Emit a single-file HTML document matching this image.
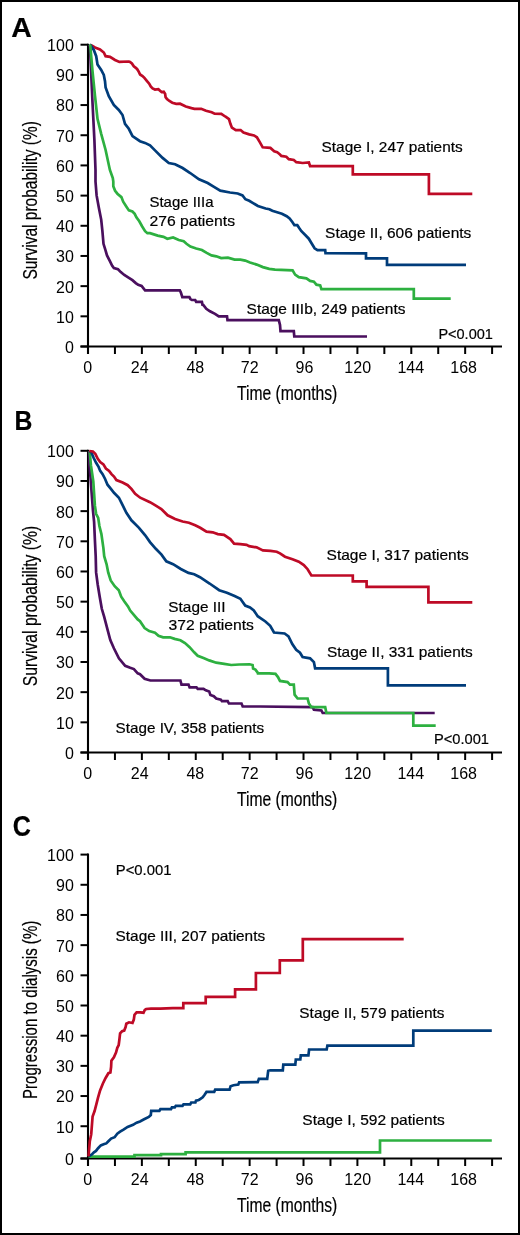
<!DOCTYPE html>
<html><head><meta charset="utf-8"><title>Survival and dialysis curves by stage</title><style>
html,body{margin:0;padding:0;background:#fff;width:520px;height:1235px;overflow:hidden}
svg{display:block;will-change:transform}
text{font-family:"Liberation Sans",sans-serif;fill:#000000;stroke:#000000;stroke-width:0.2px}
text.tk{stroke-width:0}
</style></head><body>
<svg width="520" height="1235" viewBox="0 0 520 1235">
<rect x="0" y="0" width="520" height="1235" fill="#fff"/>
<line x1="88.00" y1="43.70" x2="88.00" y2="354.00" stroke="#000" stroke-width="2.10"/>
<line x1="80.50" y1="346.50" x2="88.00" y2="346.50" stroke="#000" stroke-width="2.00"/>
<text x="73.80" y="352.90" font-size="16.00" text-anchor="end" class="tk">0</text>
<line x1="80.50" y1="316.32" x2="88.00" y2="316.32" stroke="#000" stroke-width="2.00"/>
<text x="73.80" y="322.72" font-size="16.00" text-anchor="end" class="tk">10</text>
<line x1="80.50" y1="286.14" x2="88.00" y2="286.14" stroke="#000" stroke-width="2.00"/>
<text x="73.80" y="292.54" font-size="16.00" text-anchor="end" class="tk">20</text>
<line x1="80.50" y1="255.96" x2="88.00" y2="255.96" stroke="#000" stroke-width="2.00"/>
<text x="73.80" y="262.36" font-size="16.00" text-anchor="end" class="tk">30</text>
<line x1="80.50" y1="225.78" x2="88.00" y2="225.78" stroke="#000" stroke-width="2.00"/>
<text x="73.80" y="232.18" font-size="16.00" text-anchor="end" class="tk">40</text>
<line x1="80.50" y1="195.60" x2="88.00" y2="195.60" stroke="#000" stroke-width="2.00"/>
<text x="73.80" y="202.00" font-size="16.00" text-anchor="end" class="tk">50</text>
<line x1="80.50" y1="165.42" x2="88.00" y2="165.42" stroke="#000" stroke-width="2.00"/>
<text x="73.80" y="171.82" font-size="16.00" text-anchor="end" class="tk">60</text>
<line x1="80.50" y1="135.24" x2="88.00" y2="135.24" stroke="#000" stroke-width="2.00"/>
<text x="73.80" y="141.64" font-size="16.00" text-anchor="end" class="tk">70</text>
<line x1="80.50" y1="105.06" x2="88.00" y2="105.06" stroke="#000" stroke-width="2.00"/>
<text x="73.80" y="111.46" font-size="16.00" text-anchor="end" class="tk">80</text>
<line x1="80.50" y1="74.88" x2="88.00" y2="74.88" stroke="#000" stroke-width="2.00"/>
<text x="73.80" y="81.28" font-size="16.00" text-anchor="end" class="tk">90</text>
<line x1="80.50" y1="44.70" x2="88.00" y2="44.70" stroke="#000" stroke-width="2.00"/>
<text x="73.80" y="51.10" font-size="16.00" text-anchor="end" class="tk">100</text>
<line x1="80.50" y1="346.50" x2="502.00" y2="346.50" stroke="#000" stroke-width="2.10"/>
<line x1="114.94" y1="346.50" x2="114.94" y2="354.00" stroke="#000" stroke-width="2.00"/>
<line x1="141.88" y1="346.50" x2="141.88" y2="354.00" stroke="#000" stroke-width="2.00"/>
<line x1="168.82" y1="346.50" x2="168.82" y2="354.00" stroke="#000" stroke-width="2.00"/>
<line x1="195.76" y1="346.50" x2="195.76" y2="354.00" stroke="#000" stroke-width="2.00"/>
<line x1="222.70" y1="346.50" x2="222.70" y2="354.00" stroke="#000" stroke-width="2.00"/>
<line x1="249.64" y1="346.50" x2="249.64" y2="354.00" stroke="#000" stroke-width="2.00"/>
<line x1="276.58" y1="346.50" x2="276.58" y2="354.00" stroke="#000" stroke-width="2.00"/>
<line x1="303.52" y1="346.50" x2="303.52" y2="354.00" stroke="#000" stroke-width="2.00"/>
<line x1="330.46" y1="346.50" x2="330.46" y2="354.00" stroke="#000" stroke-width="2.00"/>
<line x1="357.40" y1="346.50" x2="357.40" y2="354.00" stroke="#000" stroke-width="2.00"/>
<line x1="384.34" y1="346.50" x2="384.34" y2="354.00" stroke="#000" stroke-width="2.00"/>
<line x1="411.28" y1="346.50" x2="411.28" y2="354.00" stroke="#000" stroke-width="2.00"/>
<line x1="438.22" y1="346.50" x2="438.22" y2="354.00" stroke="#000" stroke-width="2.00"/>
<line x1="465.16" y1="346.50" x2="465.16" y2="354.00" stroke="#000" stroke-width="2.00"/>
<line x1="492.10" y1="346.50" x2="492.10" y2="354.00" stroke="#000" stroke-width="2.00"/>
<text x="87.80" y="372.60" font-size="16.00" text-anchor="middle" class="tk">0</text>
<text x="139.68" y="372.60" font-size="16.00" text-anchor="middle" class="tk">24</text>
<text x="195.31" y="372.60" font-size="16.00" text-anchor="middle" class="tk">48</text>
<text x="249.64" y="372.60" font-size="16.00" text-anchor="middle" class="tk">72</text>
<text x="304.42" y="372.60" font-size="16.00" text-anchor="middle" class="tk">96</text>
<text x="357.70" y="372.60" font-size="16.00" text-anchor="middle" class="tk">120</text>
<text x="410.78" y="372.60" font-size="16.00" text-anchor="middle" class="tk">144</text>
<text x="463.61" y="372.60" font-size="16.00" text-anchor="middle" class="tk">168</text>
<text x="237.00" y="399.80" font-size="20.00" textLength="100.29" lengthAdjust="spacingAndGlyphs">Time (months)</text>
<text x="0" y="0" font-size="20.00" textLength="158.51" lengthAdjust="spacingAndGlyphs" transform="translate(36.70,279.60) rotate(-90)">Survival probability (%)</text>
<text x="11.20" y="36.80" font-size="27.5" font-weight="bold" textLength="20.50" lengthAdjust="spacingAndGlyphs" style="fill:#000">A</text>
<polyline points="90.2,44.9 91.2,45.3 95.0,47.5 100.0,49.4 103.8,52.5 105.6,56.2 110.0,56.9 115.0,60.0 119.4,61.9 128.8,61.5 130.0,62.0 131.9,63.5 133.8,66.3 135.8,67.8 137.2,69.2 138.7,71.6 140.1,74.5 142.5,76.0 144.4,77.9 146.8,80.8 149.2,83.7 150.7,86.5 152.6,88.5 155.0,89.6 158.4,89.2 160.3,90.9 161.7,92.1 163.7,91.8 165.1,93.8 165.6,97.1 167.0,99.0 169.4,101.0 172.3,102.7 176.2,103.8 180.0,103.7 185.8,106.5 191.5,108.1 194.4,108.8 201.2,108.8 206.0,110.8 211.7,112.3 214.6,113.7 221.3,113.8 225.2,116.5 229.0,119.0 230.4,123.8 231.9,127.7 235.8,130.2 240.6,130.0 243.5,132.5 249.2,134.4 254.0,135.4 256.9,137.3 259.8,142.1 262.7,147.3 270.4,147.9 274.2,151.2 277.1,152.1 280.0,154.6 281.3,155.9 286.3,156.7 288.8,159.2 293.8,160.0 296.3,162.2 302.6,163.0 308.9,162.5 310.1,166.2 352.8,166.2 352.8,174.3 428.9,174.3 428.9,193.8 472.3,193.8" fill="none" stroke="#BE0A26" stroke-width="2.70" stroke-linejoin="miter" stroke-miterlimit="3"/>
<polyline points="89.8,44.7 90.6,45.2 93.8,50.0 96.2,56.2 97.5,64.4 101.2,70.0 103.8,75.0 105.0,81.2 105.6,87.5 108.8,96.2 113.8,105.0 118.8,110.0 122.5,115.0 125.0,123.8 128.8,128.8 132.5,136.2 140.0,141.2 145.0,142.9 150.0,145.4 155.0,150.4 162.6,157.9 168.8,163.0 175.1,164.2 182.6,168.0 190.2,173.0 199.0,179.3 207.7,183.0 214.0,186.8 220.3,190.6 230.0,192.5 237.7,193.5 242.5,195.4 245.4,199.2 249.2,200.8 253.1,203.1 257.9,206.0 265.6,208.5 269.4,209.2 272.3,210.8 277.1,212.3 281.9,213.7 286.7,216.2 289.6,218.5 292.5,222.3 294.4,225.2 297.3,225.2 299.2,228.1 301.2,231.0 305.0,234.8 308.8,238.7 311.7,243.5 314.6,248.3 317.5,250.2 325.2,250.2 325.5,253.1 366.0,253.3 366.0,258.3 387.0,258.3 387.0,264.9 466.0,264.9" fill="none" stroke="#003C7A" stroke-width="2.70" stroke-linejoin="miter" stroke-miterlimit="3"/>
<polyline points="89.5,44.7 90.0,47.0 92.5,102.5 94.4,140.0 95.5,170.0 95.5,181.5 96.6,195.4 98.9,208.1 101.2,219.6 102.4,231.2 103.5,243.8 105.3,249.6 107.0,255.4 109.9,261.2 112.2,265.8 113.9,268.1 118.0,269.2 120.8,272.1 124.3,275.0 128.9,277.9 132.4,280.2 135.8,283.1 138.2,284.8 141.6,286.0 143.9,288.8 145.1,290.3 150.0,290.4 179.8,290.4 180.8,292.3 181.7,295.2 182.3,297.1 189.4,297.1 190.4,299.0 191.9,300.0 195.2,300.0 196.2,301.9 201.9,301.9 202.5,304.8 203.3,305.0 206.3,308.8 210.0,311.3 215.0,313.8 218.8,316.3 227.0,316.3 227.5,320.2 278.8,320.2 280.0,325.0 280.5,331.2 293.8,331.2 294.3,336.5 367.0,336.5" fill="none" stroke="#4A0F5E" stroke-width="2.70" stroke-linejoin="miter" stroke-miterlimit="3"/>
<polyline points="89.9,44.4 90.3,46.0 92.5,71.0 95.0,96.0 97.5,118.8 101.2,133.8 105.6,150.0 109.9,170.0 112.8,178.1 113.3,181.5 113.3,186.2 115.1,190.8 117.4,193.7 121.4,197.1 123.2,201.7 126.6,206.9 128.9,210.4 132.4,211.5 134.7,213.8 136.4,217.3 139.3,221.3 142.2,226.5 145.1,231.2 147.4,233.2 150.0,233.1 157.7,235.6 163.5,236.9 167.3,238.8 173.1,237.5 178.8,240.0 183.7,241.3 186.5,243.8 190.4,246.5 196.2,248.5 201.9,250.0 206.7,252.9 211.5,255.4 216.3,256.3 221.2,258.1 227.9,257.7 234.6,259.6 240.4,259.6 245.2,260.6 250.0,262.5 256.7,264.6 262.9,267.1 269.2,268.9 275.0,269.6 292.6,270.4 295.1,274.6 298.8,277.1 306.4,278.4 310.1,280.9 313.9,281.7 316.4,284.7 320.2,285.4 321.4,289.2 413.8,289.2 413.8,298.6 450.7,298.6" fill="none" stroke="#2DB040" stroke-width="2.70" stroke-linejoin="miter" stroke-miterlimit="3"/>
<text x="321.59" y="152.30" font-size="15.00" textLength="141.11" lengthAdjust="spacingAndGlyphs">Stage I, 247 patients</text>
<text x="325.10" y="238.20" font-size="15.00" textLength="146.20" lengthAdjust="spacingAndGlyphs">Stage II, 606 patients</text>
<text x="149.50" y="207.40" font-size="15.00" textLength="64.00" lengthAdjust="spacingAndGlyphs">Stage IIIa</text>
<text x="149.50" y="226.20" font-size="15.00" textLength="85.53" lengthAdjust="spacingAndGlyphs">276 patients</text>
<text x="246.60" y="314.10" font-size="15.00" textLength="158.89" lengthAdjust="spacingAndGlyphs">Stage IIIb, 249 patients</text>
<text x="438.39" y="339.40" font-size="15.00" textLength="54.52" lengthAdjust="spacingAndGlyphs">P&lt;0.001</text>
<line x1="88.00" y1="449.80" x2="88.00" y2="760.00" stroke="#000" stroke-width="2.10"/>
<line x1="80.50" y1="752.50" x2="88.00" y2="752.50" stroke="#000" stroke-width="2.00"/>
<text x="73.80" y="758.90" font-size="16.00" text-anchor="end" class="tk">0</text>
<line x1="80.50" y1="722.33" x2="88.00" y2="722.33" stroke="#000" stroke-width="2.00"/>
<text x="73.80" y="728.73" font-size="16.00" text-anchor="end" class="tk">10</text>
<line x1="80.50" y1="692.16" x2="88.00" y2="692.16" stroke="#000" stroke-width="2.00"/>
<text x="73.80" y="698.56" font-size="16.00" text-anchor="end" class="tk">20</text>
<line x1="80.50" y1="661.99" x2="88.00" y2="661.99" stroke="#000" stroke-width="2.00"/>
<text x="73.80" y="668.39" font-size="16.00" text-anchor="end" class="tk">30</text>
<line x1="80.50" y1="631.82" x2="88.00" y2="631.82" stroke="#000" stroke-width="2.00"/>
<text x="73.80" y="638.22" font-size="16.00" text-anchor="end" class="tk">40</text>
<line x1="80.50" y1="601.65" x2="88.00" y2="601.65" stroke="#000" stroke-width="2.00"/>
<text x="73.80" y="608.05" font-size="16.00" text-anchor="end" class="tk">50</text>
<line x1="80.50" y1="571.48" x2="88.00" y2="571.48" stroke="#000" stroke-width="2.00"/>
<text x="73.80" y="577.88" font-size="16.00" text-anchor="end" class="tk">60</text>
<line x1="80.50" y1="541.31" x2="88.00" y2="541.31" stroke="#000" stroke-width="2.00"/>
<text x="73.80" y="547.71" font-size="16.00" text-anchor="end" class="tk">70</text>
<line x1="80.50" y1="511.14" x2="88.00" y2="511.14" stroke="#000" stroke-width="2.00"/>
<text x="73.80" y="517.54" font-size="16.00" text-anchor="end" class="tk">80</text>
<line x1="80.50" y1="480.97" x2="88.00" y2="480.97" stroke="#000" stroke-width="2.00"/>
<text x="73.80" y="487.37" font-size="16.00" text-anchor="end" class="tk">90</text>
<line x1="80.50" y1="450.80" x2="88.00" y2="450.80" stroke="#000" stroke-width="2.00"/>
<text x="73.80" y="457.20" font-size="16.00" text-anchor="end" class="tk">100</text>
<line x1="80.50" y1="752.50" x2="502.00" y2="752.50" stroke="#000" stroke-width="2.10"/>
<line x1="114.94" y1="752.50" x2="114.94" y2="760.00" stroke="#000" stroke-width="2.00"/>
<line x1="141.88" y1="752.50" x2="141.88" y2="760.00" stroke="#000" stroke-width="2.00"/>
<line x1="168.82" y1="752.50" x2="168.82" y2="760.00" stroke="#000" stroke-width="2.00"/>
<line x1="195.76" y1="752.50" x2="195.76" y2="760.00" stroke="#000" stroke-width="2.00"/>
<line x1="222.70" y1="752.50" x2="222.70" y2="760.00" stroke="#000" stroke-width="2.00"/>
<line x1="249.64" y1="752.50" x2="249.64" y2="760.00" stroke="#000" stroke-width="2.00"/>
<line x1="276.58" y1="752.50" x2="276.58" y2="760.00" stroke="#000" stroke-width="2.00"/>
<line x1="303.52" y1="752.50" x2="303.52" y2="760.00" stroke="#000" stroke-width="2.00"/>
<line x1="330.46" y1="752.50" x2="330.46" y2="760.00" stroke="#000" stroke-width="2.00"/>
<line x1="357.40" y1="752.50" x2="357.40" y2="760.00" stroke="#000" stroke-width="2.00"/>
<line x1="384.34" y1="752.50" x2="384.34" y2="760.00" stroke="#000" stroke-width="2.00"/>
<line x1="411.28" y1="752.50" x2="411.28" y2="760.00" stroke="#000" stroke-width="2.00"/>
<line x1="438.22" y1="752.50" x2="438.22" y2="760.00" stroke="#000" stroke-width="2.00"/>
<line x1="465.16" y1="752.50" x2="465.16" y2="760.00" stroke="#000" stroke-width="2.00"/>
<line x1="492.10" y1="752.50" x2="492.10" y2="760.00" stroke="#000" stroke-width="2.00"/>
<text x="87.80" y="778.60" font-size="16.00" text-anchor="middle" class="tk">0</text>
<text x="139.68" y="778.60" font-size="16.00" text-anchor="middle" class="tk">24</text>
<text x="195.31" y="778.60" font-size="16.00" text-anchor="middle" class="tk">48</text>
<text x="249.64" y="778.60" font-size="16.00" text-anchor="middle" class="tk">72</text>
<text x="304.42" y="778.60" font-size="16.00" text-anchor="middle" class="tk">96</text>
<text x="357.70" y="778.60" font-size="16.00" text-anchor="middle" class="tk">120</text>
<text x="410.78" y="778.60" font-size="16.00" text-anchor="middle" class="tk">144</text>
<text x="463.61" y="778.60" font-size="16.00" text-anchor="middle" class="tk">168</text>
<text x="237.00" y="805.80" font-size="20.00" textLength="100.29" lengthAdjust="spacingAndGlyphs">Time (months)</text>
<text x="0" y="0" font-size="20.00" textLength="160.33" lengthAdjust="spacingAndGlyphs" transform="translate(36.70,686.22) rotate(-90)">Survival probability (%)</text>
<text x="14.40" y="429.80" font-size="27.5" font-weight="bold" textLength="17.90" lengthAdjust="spacingAndGlyphs" style="fill:#000">B</text>
<polyline points="89.2,451.0 89.3,463.6 90.5,477.4 91.7,493.6 92.9,509.8 94.1,521.9 94.9,540.0 95.7,556.2 96.1,572.4 97.7,584.5 99.7,596.7 101.8,608.8 104.2,616.9 107.4,629.1 110.3,640.0 113.9,648.3 118.9,658.3 125.2,665.8 130.2,667.8 133.9,669.1 137.7,673.4 140.0,674.2 144.6,678.8 150.4,680.5 180.4,680.5 181.5,684.6 188.5,684.6 189.6,687.4 196.5,687.4 197.7,688.8 203.5,688.8 205.8,690.4 209.2,691.5 210.4,695.0 213.8,696.2 216.2,698.5 220.8,699.6 221.9,701.2 227.7,701.2 228.9,703.5 241.5,703.5 242.7,706.5 260.0,706.5 312.6,707.2 313.9,709.7 321.4,710.5 322.7,713.0 434.7,713.0" fill="none" stroke="#4A0F5E" stroke-width="2.70" stroke-linejoin="miter" stroke-miterlimit="3"/>
<polyline points="89.7,451.2 90.9,465.2 92.1,473.3 93.3,481.4 94.1,493.6 94.9,505.7 96.1,513.8 98.2,517.9 99.4,526.0 101.4,534.1 103.4,548.1 104.2,556.2 106.6,564.3 108.2,572.4 110.7,580.5 114.7,586.2 118.8,590.2 121.2,596.7 124.4,601.5 128.0,606.4 130.2,610.6 137.7,619.4 140.0,621.2 144.6,628.1 149.2,631.1 155.0,632.7 158.5,635.7 163.1,637.3 170.0,637.3 174.6,638.9 180.4,640.3 185.0,643.1 189.6,647.2 194.2,652.3 197.7,655.8 203.5,658.1 209.2,660.4 216.2,662.7 224.2,663.8 231.2,665.0 239.2,664.5 249.6,664.3 252.6,665.0 253.1,668.5 255.4,669.6 257.7,672.6 257.9,673.4 269.2,673.4 275.5,673.9 278.0,677.1 280.0,680.9 287.5,682.1 290.0,684.6 293.8,684.6 294.6,694.7 297.6,698.5 307.6,698.5 308.9,703.5 311.4,707.2 325.2,707.2 326.4,713.0 413.3,713.0 413.3,725.6 435.7,725.6" fill="none" stroke="#2DB040" stroke-width="2.70" stroke-linejoin="miter" stroke-miterlimit="3"/>
<polyline points="89.5,451.0 91.3,452.3 93.7,458.0 96.1,462.8 98.6,466.9 100.2,470.9 102.6,474.1 105.1,479.0 107.5,484.7 110.7,488.7 114.0,492.8 118.9,497.7 122.6,505.2 126.4,512.8 131.4,520.3 139.0,527.8 145.2,535.3 150.0,542.1 155.8,548.8 161.5,554.6 166.3,561.3 173.1,564.2 180.8,569.0 188.5,572.9 194.2,574.2 200.0,577.2 209.6,583.5 219.2,590.2 226.9,592.7 234.6,596.0 240.4,598.8 245.2,605.6 250.0,607.5 253.8,610.4 257.7,616.2 265.4,621.5 270.2,625.8 274.0,632.5 284.6,633.5 288.5,636.3 292.3,644.0 296.2,649.8 300.0,652.7 302.6,657.0 310.1,658.3 313.9,662.1 315.1,668.3 387.9,668.3 387.9,685.4 466.0,685.4" fill="none" stroke="#003C7A" stroke-width="2.70" stroke-linejoin="miter" stroke-miterlimit="3"/>
<polyline points="89.2,451.0 92.9,451.5 95.3,453.9 97.8,458.8 100.2,462.0 103.4,464.4 105.9,468.5 109.1,470.9 111.5,474.1 114.0,476.6 116.4,480.1 122.6,482.6 127.7,485.2 131.4,488.9 135.2,493.9 140.2,497.7 150.0,502.2 155.0,505.2 161.3,509.0 167.6,515.3 175.1,519.0 182.6,521.5 188.9,522.8 195.2,525.3 200.2,527.8 206.5,531.6 212.7,532.3 217.8,534.1 224.0,534.8 230.3,539.1 234.1,543.6 240.3,544.1 246.6,544.9 249.1,546.1 256.6,547.4 262.9,550.4 270.5,550.9 276.7,551.7 280.0,553.4 285.0,556.7 292.5,559.2 298.8,561.7 303.8,565.0 307.6,569.2 311.4,575.5 352.8,575.5 352.8,581.3 366.6,581.3 366.6,586.8 428.4,586.8 428.4,602.3 472.3,602.3" fill="none" stroke="#BE0A26" stroke-width="2.70" stroke-linejoin="miter" stroke-miterlimit="3"/>
<text x="326.60" y="560.40" font-size="15.00" textLength="142.20" lengthAdjust="spacingAndGlyphs">Stage I, 317 patients</text>
<text x="326.99" y="657.30" font-size="15.00" textLength="145.81" lengthAdjust="spacingAndGlyphs">Stage II, 331 patients</text>
<text x="168.38" y="612.00" font-size="15.00" textLength="57.14" lengthAdjust="spacingAndGlyphs">Stage III</text>
<text x="168.48" y="629.60" font-size="15.00" textLength="85.43" lengthAdjust="spacingAndGlyphs">372 patients</text>
<text x="115.60" y="732.80" font-size="15.00" textLength="148.51" lengthAdjust="spacingAndGlyphs">Stage IV, 358 patients</text>
<text x="434.00" y="744.40" font-size="15.00" textLength="55.03" lengthAdjust="spacingAndGlyphs">P&lt;0.001</text>
<line x1="88.00" y1="853.60" x2="88.00" y2="1166.00" stroke="#000" stroke-width="2.10"/>
<line x1="80.50" y1="1126.22" x2="88.00" y2="1126.22" stroke="#000" stroke-width="2.00"/>
<text x="73.80" y="1132.62" font-size="16.00" text-anchor="end" class="tk">10</text>
<line x1="80.50" y1="1096.04" x2="88.00" y2="1096.04" stroke="#000" stroke-width="2.00"/>
<text x="73.80" y="1102.44" font-size="16.00" text-anchor="end" class="tk">20</text>
<line x1="80.50" y1="1065.86" x2="88.00" y2="1065.86" stroke="#000" stroke-width="2.00"/>
<text x="73.80" y="1072.26" font-size="16.00" text-anchor="end" class="tk">30</text>
<line x1="80.50" y1="1035.68" x2="88.00" y2="1035.68" stroke="#000" stroke-width="2.00"/>
<text x="73.80" y="1042.08" font-size="16.00" text-anchor="end" class="tk">40</text>
<line x1="80.50" y1="1005.50" x2="88.00" y2="1005.50" stroke="#000" stroke-width="2.00"/>
<text x="73.80" y="1011.90" font-size="16.00" text-anchor="end" class="tk">50</text>
<line x1="80.50" y1="975.32" x2="88.00" y2="975.32" stroke="#000" stroke-width="2.00"/>
<text x="73.80" y="981.72" font-size="16.00" text-anchor="end" class="tk">60</text>
<line x1="80.50" y1="945.14" x2="88.00" y2="945.14" stroke="#000" stroke-width="2.00"/>
<text x="73.80" y="951.54" font-size="16.00" text-anchor="end" class="tk">70</text>
<line x1="80.50" y1="914.96" x2="88.00" y2="914.96" stroke="#000" stroke-width="2.00"/>
<text x="73.80" y="921.36" font-size="16.00" text-anchor="end" class="tk">80</text>
<line x1="80.50" y1="884.78" x2="88.00" y2="884.78" stroke="#000" stroke-width="2.00"/>
<text x="73.80" y="891.18" font-size="16.00" text-anchor="end" class="tk">90</text>
<line x1="80.50" y1="854.60" x2="88.00" y2="854.60" stroke="#000" stroke-width="2.00"/>
<text x="73.80" y="861.00" font-size="16.00" text-anchor="end" class="tk">100</text>
<line x1="80.50" y1="1158.50" x2="88.00" y2="1158.50" stroke="#000" stroke-width="2.00"/>
<text x="73.80" y="1164.90" font-size="16.00" text-anchor="end" class="tk">0</text>
<line x1="80.50" y1="1158.50" x2="502.00" y2="1158.50" stroke="#000" stroke-width="2.10"/>
<line x1="114.94" y1="1158.50" x2="114.94" y2="1166.00" stroke="#000" stroke-width="2.00"/>
<line x1="141.88" y1="1158.50" x2="141.88" y2="1166.00" stroke="#000" stroke-width="2.00"/>
<line x1="168.82" y1="1158.50" x2="168.82" y2="1166.00" stroke="#000" stroke-width="2.00"/>
<line x1="195.76" y1="1158.50" x2="195.76" y2="1166.00" stroke="#000" stroke-width="2.00"/>
<line x1="222.70" y1="1158.50" x2="222.70" y2="1166.00" stroke="#000" stroke-width="2.00"/>
<line x1="249.64" y1="1158.50" x2="249.64" y2="1166.00" stroke="#000" stroke-width="2.00"/>
<line x1="276.58" y1="1158.50" x2="276.58" y2="1166.00" stroke="#000" stroke-width="2.00"/>
<line x1="303.52" y1="1158.50" x2="303.52" y2="1166.00" stroke="#000" stroke-width="2.00"/>
<line x1="330.46" y1="1158.50" x2="330.46" y2="1166.00" stroke="#000" stroke-width="2.00"/>
<line x1="357.40" y1="1158.50" x2="357.40" y2="1166.00" stroke="#000" stroke-width="2.00"/>
<line x1="384.34" y1="1158.50" x2="384.34" y2="1166.00" stroke="#000" stroke-width="2.00"/>
<line x1="411.28" y1="1158.50" x2="411.28" y2="1166.00" stroke="#000" stroke-width="2.00"/>
<line x1="438.22" y1="1158.50" x2="438.22" y2="1166.00" stroke="#000" stroke-width="2.00"/>
<line x1="465.16" y1="1158.50" x2="465.16" y2="1166.00" stroke="#000" stroke-width="2.00"/>
<line x1="492.10" y1="1158.50" x2="492.10" y2="1166.00" stroke="#000" stroke-width="2.00"/>
<text x="87.80" y="1184.60" font-size="16.00" text-anchor="middle" class="tk">0</text>
<text x="139.68" y="1184.60" font-size="16.00" text-anchor="middle" class="tk">24</text>
<text x="195.31" y="1184.60" font-size="16.00" text-anchor="middle" class="tk">48</text>
<text x="249.64" y="1184.60" font-size="16.00" text-anchor="middle" class="tk">72</text>
<text x="304.42" y="1184.60" font-size="16.00" text-anchor="middle" class="tk">96</text>
<text x="357.70" y="1184.60" font-size="16.00" text-anchor="middle" class="tk">120</text>
<text x="410.78" y="1184.60" font-size="16.00" text-anchor="middle" class="tk">144</text>
<text x="463.61" y="1184.60" font-size="16.00" text-anchor="middle" class="tk">168</text>
<text x="237.00" y="1211.80" font-size="20.00" textLength="100.29" lengthAdjust="spacingAndGlyphs">Time (months)</text>
<text x="0" y="0" font-size="20.00" textLength="178.32" lengthAdjust="spacingAndGlyphs" transform="translate(36.70,1099.02) rotate(-90)">Progression to dialysis (%)</text>
<text x="12.80" y="835.90" font-size="29.0" font-weight="bold" textLength="18.20" lengthAdjust="spacingAndGlyphs" style="fill:#000">C</text>
<polyline points="88.5,1156.6 134.5,1156.6 134.5,1155.1 161.0,1155.1 161.0,1154.2 185.6,1154.2 185.6,1152.3 380.0,1152.3 380.0,1140.5 491.8,1140.5" fill="none" stroke="#2DB040" stroke-width="2.70" stroke-linejoin="miter" stroke-miterlimit="3"/>
<polyline points="88.5,1156.4 91.9,1154.4 93.9,1152.3 96.0,1150.9 98.1,1148.2 100.8,1145.4 104.3,1144.1 106.3,1143.4 108.4,1141.3 111.1,1138.6 114.6,1137.2 117.3,1133.7 120.1,1131.7 123.5,1129.6 127.6,1126.9 133.1,1124.8 136.6,1122.7 140.0,1121.4 144.1,1119.3 148.8,1116.9 150.8,1115.0 151.2,1110.8 159.4,1110.8 160.4,1109.2 171.0,1109.2 171.9,1107.3 174.8,1107.3 175.8,1105.8 182.5,1105.8 183.5,1104.4 190.2,1104.4 191.2,1102.5 195.4,1102.5 196.0,1100.6 198.8,1100.0 200.8,1098.7 202.7,1097.3 204.6,1094.8 206.5,1091.9 214.2,1091.9 215.2,1089.6 229.6,1089.6 230.6,1086.2 233.5,1085.2 238.3,1084.6 239.2,1082.3 257.7,1082.1 258.9,1078.9 267.2,1078.9 268.2,1070.8 270.2,1070.3 282.8,1070.3 283.3,1064.6 295.3,1064.6 295.8,1059.5 300.3,1059.5 300.8,1055.3 308.4,1055.3 309.1,1049.5 326.7,1049.5 327.4,1045.6 413.3,1045.6 413.3,1030.6 491.8,1030.6" fill="none" stroke="#003C7A" stroke-width="2.70" stroke-linejoin="miter" stroke-miterlimit="3"/>
<polyline points="88.5,1156.4 89.8,1141.3 91.2,1134.4 92.6,1116.5 94.6,1111.0 96.7,1102.8 98.1,1097.3 100.1,1090.4 102.9,1083.5 105.6,1078.0 108.4,1073.2 110.4,1072.5 111.1,1067.0 111.4,1060.8 113.9,1057.4 116.0,1052.6 117.3,1047.8 118.7,1045.0 119.4,1039.5 120.1,1033.3 122.1,1031.3 124.2,1030.6 125.6,1027.1 126.3,1023.7 129.0,1022.3 132.5,1023.0 133.8,1019.6 134.5,1014.8 136.6,1012.3 140.0,1012.3 143.5,1012.7 144.8,1009.9 146.2,1009.0 151.0,1008.6 160.3,1008.6 172.8,1008.1 183.3,1008.1 183.3,1003.1 205.7,1003.1 205.7,996.8 235.1,996.8 235.1,989.3 255.9,989.3 255.9,973.0 279.8,973.0 279.8,960.4 302.8,960.4 302.8,939.1 403.7,939.1" fill="none" stroke="#BE0A26" stroke-width="2.70" stroke-linejoin="miter" stroke-miterlimit="3"/>
<text x="115.72" y="875.00" font-size="15.00" textLength="55.77" lengthAdjust="spacingAndGlyphs">P&lt;0.001</text>
<text x="115.60" y="940.80" font-size="15.00" textLength="149.51" lengthAdjust="spacingAndGlyphs">Stage III, 207 patients</text>
<text x="299.39" y="1018.30" font-size="15.00" textLength="145.11" lengthAdjust="spacingAndGlyphs">Stage II, 579 patients</text>
<text x="302.38" y="1124.90" font-size="15.00" textLength="142.37" lengthAdjust="spacingAndGlyphs">Stage I, 592 patients</text>
<rect x="1" y="1" width="518" height="1233" fill="none" stroke="#000" stroke-width="2"/>
</svg></body></html>
